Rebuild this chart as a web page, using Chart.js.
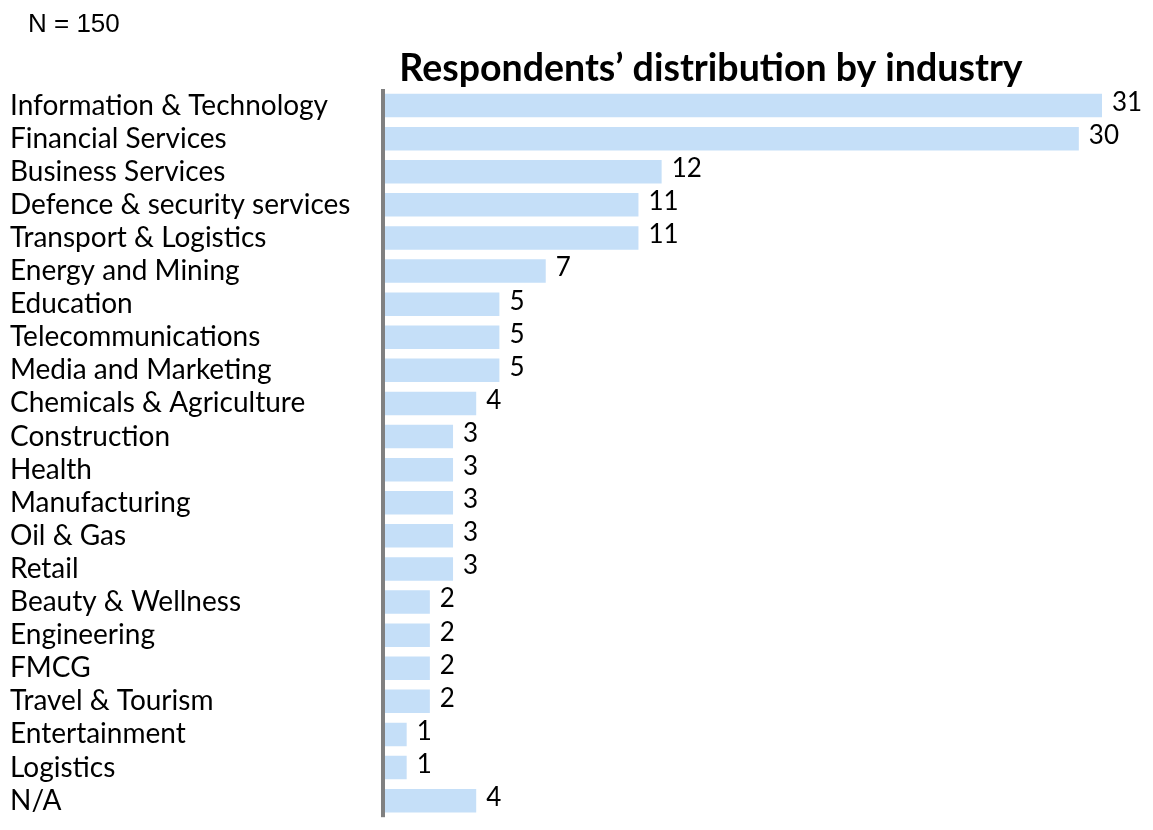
<!DOCTYPE html>
<html>
<head>
<meta charset="utf-8">
<title>Respondents by industry</title>
<script src="https://cdn.jsdelivr.net/npm/chart.js@4"></script>
<style>
  html, body { margin: 0; padding: 0; background: #fff; overflow: hidden; }
  #Grafico { display: block; }
</style>
</head>
<body>
<canvas id="Grafico" width="1153" height="834"></canvas>
<script>
const Industrias = [
  'Information & Technology', 'Financial Services', 'Business Services',
  'Defence & security services', 'Transport & Logistics', 'Energy and Mining',
  'Education', 'Telecommunications', 'Media and Marketing',
  'Chemicals & Agriculture', 'Construction', 'Health', 'Manufacturing',
  'Oil & Gas', 'Retail', 'Beauty & Wellness', 'Engineering', 'FMCG',
  'Travel & Tourism', 'Entertainment', 'Logistics', 'N/A'
];
const Respuestas = [31, 30, 12, 11, 11, 7, 5, 5, 5, 4, 3, 3, 3, 3, 3, 2, 2, 2, 2, 1, 1, 4];
const Titulo     = 'Respondents\u2019 distribution by industry';
const Muestra    = 'N = 150';

const FuenteTexto = 'Lato, "Open Sans", sans-serif';

// Linea del eje y numero al final de cada barra
const EtiquetasValor = {
  id: 'EtiquetasValor',
  afterDatasetsDraw(Grafico) {
    const Ctx  = Grafico.ctx;
    const Area = Grafico.chartArea;
    const Meta = Grafico.getDatasetMeta(0);
    Ctx.save();
    Ctx.fillStyle = '#808080';
    Ctx.fillRect(Area.left - 2.5, Area.top, 4, Area.bottom - Area.top);

    Ctx.font = `26px ${FuenteTexto}`;
    Ctx.fillStyle = '#000';
    Ctx.textAlign = 'left';
    Ctx.textBaseline = 'middle';
    Meta.data.forEach((Barra, I) => {
      Ctx.fillText(String(Respuestas[I]), Barra.x + 10, Barra.y - 3);
    });
    Ctx.restore();
  }
};

// Titulo y tamano de muestra
const Encabezado = {
  id: 'Encabezado',
  afterDraw(Grafico) {
    const Ctx = Grafico.ctx;
    Ctx.save();
    Ctx.fillStyle = '#000';
    Ctx.textBaseline = 'alphabetic';
    Ctx.textAlign = 'center';
    Ctx.font = `bold 37.5px ${FuenteTexto}`;
    Ctx.fillText(Titulo, 711, 81);
    Ctx.textAlign = 'left';
    Ctx.font = '26px "Liberation Sans", Arial, sans-serif';
    Ctx.fillText(Muestra, 28, 32);
    Ctx.restore();
  }
};

new Chart(document.getElementById('Grafico').getContext('2d'), {
  type: 'bar',
  data: {
    labels: Industrias,
    datasets: [{
      data: Respuestas,
      backgroundColor: '#c5dff8',
      borderWidth: 0,
      categoryPercentage: 1,
      barPercentage: 0.71
    }]
  },
  options: {
    indexAxis: 'y',
    responsive: false,
    animation: false,
    layout: { padding: { left: 10, top: 89, right: 0, bottom: 0 } },
    plugins: {
      legend: { display: false },
      tooltip: { enabled: false },
      title: { display: false }
    },
    scales: {
      x: {
        display: false,
        min: 0,
        max: 33.2
      },
      y: {
        afterFit(Escala) { Escala.width = 373.5; },
        grid: { display: false, drawTicks: false },
        border: { display: false },
        ticks: {
          autoSkip: false,
          crossAlign: 'far',
          padding: 0,
          color: '#000',
          font: { family: FuenteTexto, size: 28 }
        }
      }
    }
  },
  plugins: [EtiquetasValor, Encabezado]
});
</script>
</body>
</html>
